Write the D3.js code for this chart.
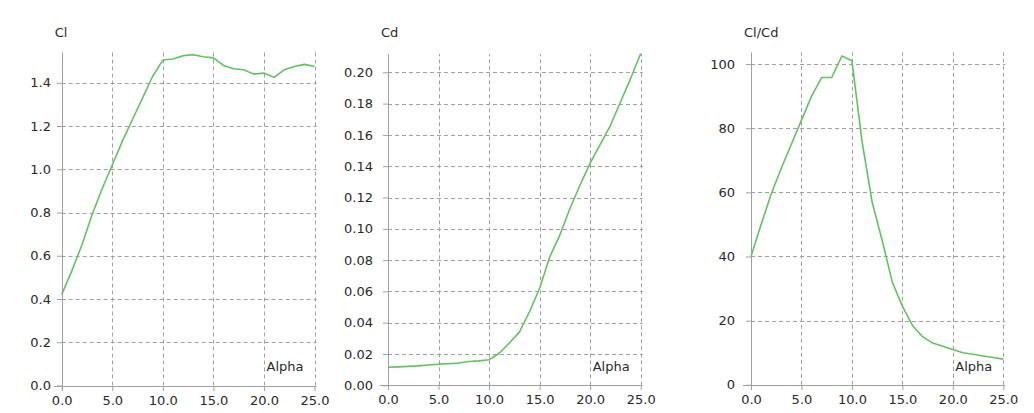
<!DOCTYPE html>
<html>
<head>
<meta charset="utf-8">
<script src="https://cdn.jsdelivr.net/npm/d3@7"></script>
<style>
  body { margin: 0; background: #fff; }
  svg text { font-family: "DejaVu Sans", Verdana, sans-serif; font-size: 13px; fill: #2a2a2a; }
</style>
</head>
<body>
<svg id="chart" width="1034" height="413"></svg>
<script>
// angle of attack, deg
var alpha = [0,1,2,3,4,5,6,7,8,9,10,11,12,13,14,15,16,17,18,19,20,21,22,23,24,25];

var cl = [0.42,0.53,0.65,0.79,0.91,1.02,1.13,1.23,1.33,1.43,1.505,1.51,1.525,1.53,1.52,1.515,
          1.48,1.465,1.46,1.44,1.445,1.425,1.46,1.475,1.485,1.475];

var cd = [0.0115,0.0118,0.0121,0.0124,0.0130,0.0135,0.0138,0.0142,0.0152,0.0156,0.0163,0.0205,
          0.027,0.034,0.047,0.062,0.082,0.096,0.113,0.128,0.142,0.154,0.166,0.181,0.196,0.212];

var clcd = [40,50,59.5,67.5,75,82.5,90,95.8,95.8,102.5,101,76,57,45,32,24.5,18.5,15,13,12,
            11,10,9.5,9,8.5,8];

var xTicks = [0,5,10,15,20,25];
var clTicks = [0,0.2,0.4,0.6,0.8,1.0,1.2,1.4];
var cdTicks = [0,0.02,0.04,0.06,0.08,0.10,0.12,0.14,0.16,0.18,0.20];
var clcdTicks = [0,20,40,60,80,100];

var panels = [
  {title: "Cl", values: cl, ticks: clTicks, fmt: d3.format(".1f"),
   left: 61.7, right: 314.5, bottom: 385.5, top: 52.5, ymax: 1.54, labelGap: 11},
  {title: "Cd", values: cd, ticks: cdTicks, fmt: d3.format(".2f"),
   left: 388, right: 640.7, bottom: 385.3, top: 54, ymax: 0.2117, labelGap: 15},
  {title: "Cl/Cd", values: clcd, ticks: clcdTicks, fmt: d3.format("d"),
   left: 751, right: 1003.3, bottom: 384.8, top: 52.5, ymax: 103.6, labelGap: 16}
];

var svg = d3.select("#chart");
var green = "#62c35e";
var gridColor = "#a0a0a0";
var axisColor = "#a0a0a0";

panels.forEach(function(p) {
  var x = d3.scaleLinear().domain([0, 25]).range([p.left, p.right]);
  var y = d3.scaleLinear().domain([0, p.ymax]).range([p.bottom, p.top]);
  var g = svg.append("g");

  // grid
  g.selectAll("line.hgrid")
    .data(p.ticks.filter(function(d) { return d > 0; }))
    .enter().append("line")
    .attr("x1", p.left).attr("x2", p.right + 2)
    .attr("y1", function(d) { return Math.round(y(d)) + 0.5; })
    .attr("y2", function(d) { return Math.round(y(d)) + 0.5; })
    .attr("stroke", gridColor).attr("stroke-dasharray", "4,3");

  g.selectAll("line.vgrid")
    .data(xTicks.filter(function(d) { return d > 0; }))
    .enter().append("line")
    .attr("x1", function(d) { return Math.round(x(d)) + 0.5; })
    .attr("x2", function(d) { return Math.round(x(d)) + 0.5; })
    .attr("y1", p.bottom).attr("y2", p.top)
    .attr("stroke", gridColor).attr("stroke-dasharray", "4,3");

  // axes
  var xAxis = g.append("g")
    .attr("transform", "translate(0," + Math.round(p.bottom) + ")")
    .call(d3.axisBottom(x).tickValues(xTicks).tickFormat(d3.format(".1f")).tickSizeOuter(0).tickSize(5).tickPadding(5));
  var yAxis = g.append("g")
    .attr("transform", "translate(" + Math.round(p.left) + ",0)")
    .call(d3.axisLeft(y).tickValues(p.ticks).tickFormat(p.fmt).tickSizeOuter(0).tickSize(5).tickPadding(p.labelGap - 5));

  [xAxis, yAxis].forEach(function(a) {
    a.select(".domain").attr("stroke", axisColor);
    a.selectAll(".tick line").attr("stroke", axisColor);
    a.selectAll(".tick text").attr("fill", "#2a2a2a").style("font-size", "13px")
      .style("font-family", "'DejaVu Sans', Verdana, sans-serif");
  });
  xAxis.select(".domain").attr("d", "M" + (p.left - 8) + ",0.5H" + (p.right + 2));
  yAxis.select(".domain").attr("d", "M0.5," + (p.bottom + 4) + "V" + p.top);

  // curve
  var line = d3.line()
    .x(function(d, i) { return x(alpha[i]); })
    .y(function(d) { return y(d); });
  g.append("path")
    .datum(p.values)
    .attr("d", line)
    .attr("fill", "none")
    .attr("stroke", green)
    .attr("stroke-width", 1.6)
    .attr("stroke-linejoin", "round");

  // labels
  g.append("text")
    .attr("x", p.left - 7)
    .attr("y", 37)
    .text(p.title);
  g.append("text")
    .attr("x", p.right - 11)
    .attr("y", 371)
    .attr("text-anchor", "end")
    .text("Alpha");
});
</script>
</body>
</html>
